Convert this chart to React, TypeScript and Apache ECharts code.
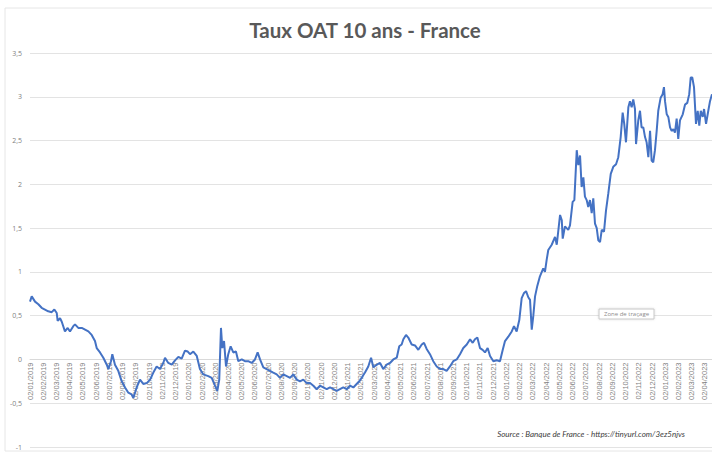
import React, { useEffect, useRef } from "react";
import * as echarts from "echarts";

const titleText = "Taux OAT 10 ans - France";
const sourceText = "Source : Banque de France - https://tinyurl.com/3ez5njvs";
const hintText = "Zone de traçage";

const monthLabels = [
  "02/01/2019", "02/02/2019", "02/03/2019", "02/04/2019", "02/05/2019", "02/06/2019",
  "02/07/2019", "02/08/2019", "02/09/2019", "02/10/2019", "02/11/2019", "02/12/2019",
  "02/01/2020", "02/02/2020", "02/03/2020", "02/04/2020", "02/05/2020", "02/06/2020",
  "02/07/2020", "02/08/2020", "02/09/2020", "02/10/2020", "02/11/2020", "02/12/2020",
  "02/01/2021", "02/02/2021", "02/03/2021", "02/04/2021", "02/05/2021", "02/06/2021",
  "02/07/2021", "02/08/2021", "02/09/2021", "02/10/2021", "02/11/2021", "02/12/2021",
  "02/01/2022", "02/02/2022", "02/03/2022", "02/04/2022", "02/05/2022", "02/06/2022",
  "02/07/2022", "02/08/2022", "02/09/2022", "02/10/2022", "02/11/2022", "02/12/2022",
  "02/01/2023", "02/02/2023", "02/03/2023", "02/04/2023",
];

// months elapsed since 02/01/2019
const monthOffsets = [
  0, 0.13, 0.38, 0.63, 0.88, 1.13, 1.38, 1.64, 1.84, 2.02, 2.09, 2.27, 2.4, 2.64, 2.85, 3.02,
  3.27, 3.4, 3.65, 3.91, 4.16, 4.41, 4.66, 4.91, 5.04, 5.29, 5.54, 5.8, 5.92, 6.12, 6.22, 6.42,
  6.67, 6.93, 7.18, 7.43, 7.68, 7.81, 8.06, 8.31, 8.56, 8.82, 9.07, 9.32, 9.57, 9.82, 10.07, 10.2,
  10.45, 10.71, 10.96, 11.21, 11.46, 11.71, 11.92, 12.09, 12.34, 12.6, 12.84, 13.09, 13.47, 13.73,
  13.98, 14.15, 14.3, 14.43, 14.53, 14.66, 14.81, 14.98, 15.16, 15.36, 15.56, 15.74, 16.0, 16.24,
  16.49, 16.75, 17.0, 17.2, 17.38, 17.63, 17.88, 18.13, 18.38, 18.64, 18.89, 19.14, 19.4, 19.65,
  19.89, 20.15, 20.4, 20.65, 20.91, 21.16, 21.41, 21.66, 21.91, 22.16, 22.42, 22.67, 22.92, 23.17,
  23.42, 23.67, 23.93, 24.18, 24.43, 24.68, 24.93, 25.31, 25.56, 25.77, 25.94, 26.2, 26.45, 26.69,
  26.95, 27.2, 27.45, 27.71, 27.9, 28.08, 28.21, 28.41, 28.58, 28.84, 29.09, 29.34, 29.6, 29.77,
  29.97, 30.22, 30.47, 30.73, 30.98, 31.23, 31.48, 31.73, 31.98, 32.24, 32.49, 32.74, 33.0, 33.25,
  33.45, 33.62, 33.8, 34.0, 34.2, 34.38, 34.58, 34.76, 35.01, 35.26, 35.51, 35.72, 35.89, 36.14,
  36.4, 36.57, 36.77, 36.97, 37.15, 37.33, 37.48, 37.65, 37.78, 37.91, 38.03, 38.16, 38.33, 38.53,
  38.78, 38.91, 39.04, 39.16, 39.42, 39.67, 39.8, 40.05, 40.18, 40.25, 40.42, 40.67, 40.8, 41.0,
  41.13, 41.31, 41.43, 41.56, 41.68, 41.81, 41.93, 42.06, 42.18, 42.31, 42.44, 42.56, 42.69, 42.82,
  42.94, 43.07, 43.2, 43.37, 43.52, 43.69, 43.88, 44.07, 44.28, 44.45, 44.63, 44.78, 44.9, 45.03,
  45.21, 45.33, 45.46, 45.58, 45.71, 45.79, 45.96, 46.09, 46.21, 46.34, 46.47, 46.59, 46.72, 46.85,
  46.97, 47.09, 47.22, 47.35, 47.47, 47.65, 47.8, 47.9, 47.98, 48.11, 48.23, 48.36, 48.48, 48.61,
  48.73, 48.86, 48.98, 49.11, 49.32, 49.49, 49.66, 49.81, 49.92, 50.04, 50.17, 50.32, 50.45, 50.57,
  50.68, 50.83, 50.93, 51.08, 51.25, 51.38, 51.53,
];

// 10-year OAT yield (%)
const rates = [
  0.66, 0.72, 0.66, 0.63, 0.59, 0.57, 0.55, 0.54, 0.57, 0.53, 0.44, 0.47, 0.43, 0.32, 0.36, 0.32,
  0.38, 0.4, 0.36, 0.36, 0.34, 0.32, 0.28, 0.21, 0.13, 0.08, 0.02, -0.06, -0.11, -0.02, 0.06, -0.06,
  -0.13, -0.25, -0.32, -0.38, -0.4, -0.44, -0.32, -0.23, -0.28, -0.27, -0.23, -0.15, -0.08, -0.11, -0.04, 0.02,
  -0.04, -0.06, -0.01, 0.03, 0.01, 0.1, 0.09, 0.06, 0.09, 0.04, -0.11, -0.17, -0.19, -0.21,
  -0.3, -0.36, -0.23, 0.36, 0.13, 0.21, -0.08, 0.06, 0.15, 0.08, 0.09, -0.02, 0, -0.02,
  -0.02, -0.04, 0, 0.08, 0, -0.09, -0.11, -0.13, -0.15, -0.17, -0.21, -0.17, -0.19, -0.21,
  -0.17, -0.23, -0.25, -0.23, -0.27, -0.27, -0.3, -0.34, -0.3, -0.32, -0.34, -0.32, -0.34, -0.36,
  -0.34, -0.32, -0.34, -0.3, -0.32, -0.28, -0.24, -0.15, -0.08, 0.02, -0.09, -0.06, -0.04, -0.11,
  -0.06, -0.04, 0, 0.02, 0.15, 0.17, 0.23, 0.28, 0.25, 0.17, 0.16, 0.11, 0.17, 0.19,
  0.12, 0.06, -0.02, -0.08, -0.11, -0.11, -0.13, -0.08, -0.02, 0, 0.06, 0.13, 0.17, 0.23,
  0.19, 0.23, 0.25, 0.13, 0.11, 0.08, 0.13, 0.04, -0.02, -0.01, -0.02, 0.11, 0.21, 0.26,
  0.32, 0.38, 0.32, 0.45, 0.7, 0.76, 0.78, 0.71, 0.68, 0.34, 0.5, 0.72, 0.84, 0.95,
  1.04, 1.0, 1.14, 1.25, 1.31, 1.4, 1.31, 1.65, 1.59, 1.38, 1.52, 1.48, 1.53, 1.8,
  1.82, 2.39, 2.22, 2.33, 1.97, 2.08, 1.86, 1.82, 1.74, 1.82, 1.67, 1.84, 1.55, 1.5,
  1.36, 1.34, 1.48, 1.46, 1.7, 1.89, 2.12, 2.2, 2.23, 2.31, 2.54, 2.82, 2.69, 2.48,
  2.88, 2.95, 2.88, 2.97, 2.86, 2.46, 2.73, 2.84, 2.65, 2.65, 2.54, 2.48, 2.31, 2.61,
  2.27, 2.25, 2.39, 2.61, 2.84, 2.99, 3.03, 3.11, 2.95, 2.8, 2.77, 2.65, 2.61, 2.63,
  2.59, 2.75, 2.52, 2.73, 2.8, 2.91, 2.93, 3.03, 3.22, 3.22, 3.11, 2.69, 2.84, 2.67,
  2.84, 2.77, 2.86, 2.69, 2.84, 2.95, 3.03,
];

const Y_MIN = -1;
const Y_MAX = 3.5;

export default function App() {
  const ref = useRef<HTMLDivElement>(null);
  useEffect(() => {
    if (!ref.current) return;
    const chart = echarts.init(ref.current, undefined, { renderer: "svg" });
    const data = monthOffsets.map((m, i) => [m, rates[i]]);
    const lastMonth = monthOffsets[monthOffsets.length - 1];
    const gridTop = 53;
    const gridBottom = 5;
    const gridHeight = 452 - gridTop - gridBottom;
    // lift the date axis from the bottom of the plot up to the 0 line
    const zeroLift = -(gridHeight * (0 - Y_MIN)) / (Y_MAX - Y_MIN);
    chart.setOption({
      animation: false,
      backgroundColor: "#ffffff",
      grid: {
        left: 30,
        right: 0,
        top: gridTop,
        bottom: gridBottom,
        containLabel: false,
        outerBoundsMode: "none",
      },
      xAxis: {
        type: "value",
        min: 0,
        max: lastMonth,
        interval: 1,
        offset: zeroLift,
        axisLine: { onZero: false, lineStyle: { color: "#d9d9d9", width: 1 } },
        axisTick: { show: false },
        splitLine: { show: false },
        axisLabel: {
          rotate: 90,
          fontSize: 7.5,
          color: "#7f7f7f",
          fontFamily: "'Liberation Sans', 'Open Sans', sans-serif",
          margin: 3,
          showMaxLabel: false,
          hideOverlap: false,
          formatter: (v: number) =>
            Number.isInteger(v) && monthLabels[v] ? monthLabels[v] : "",
        },
      },
      yAxis: {
        type: "value",
        min: Y_MIN,
        max: Y_MAX,
        interval: 0.5,
        axisLine: { show: false, onZero: false },
        axisTick: { show: false },
        splitLine: { lineStyle: { color: "#e3e3e3", width: 1 } },
        axisLabel: {
          fontSize: 7,
          color: "#7f7f7f",
          margin: 8,
          fontFamily: "'Open Sans', sans-serif",
          formatter: (v: number) => String(v).replace(".", ","),
        },
      },
      series: [
        {
          type: "line",
          data,
          showSymbol: false,
          symbol: "none",
          lineStyle: { color: "#4472c4", width: 2 },
          z: 3,
        },
      ],
      graphic: [
        {
          type: "rect",
          shape: { x: 5, y: 8, width: 720, height: 443 },
          style: { fill: "none", stroke: "#e6e6e6", lineWidth: 1 },
          silent: true,
        },
        {
          type: "text",
          x: 365,
          y: 30,
          style: {
            text: titleText,
            fill: "#595959",
            font: "bold 20.5px Lato, 'Open Sans', sans-serif",
            textAlign: "center",
            textVerticalAlign: "middle",
          },
        },
        {
          type: "rect",
          shape: { x: 599, y: 309, width: 55, height: 10 },
          style: { fill: "#ffffff", stroke: "#c8c8c8", lineWidth: 1, shadowBlur: 2, shadowColor: "rgba(0,0,0,0.15)" },
          z: 10,
        },
        {
          type: "text",
          x: 626.5,
          y: 314,
          z: 11,
          style: {
            text: hintText,
            fill: "#8c8c8c",
            font: "6px 'Open Sans', sans-serif",
            textAlign: "center",
            textVerticalAlign: "middle",
          },
        },
        {
          type: "text",
          x: 685,
          y: 433.5,
          style: {
            text: sourceText,
            fill: "#404040",
            font: "italic 8px 'Liberation Sans Narrow', Lato, sans-serif",
            textAlign: "right",
            textVerticalAlign: "middle",
          },
        },
      ],
    });
    return () => chart.dispose();
  }, []);
  return (
    <div
      ref={ref}
      style={{ position: "absolute", left: 0, top: 0, width: 712, height: 452, background: "#fff" }}
    />
  );
}
